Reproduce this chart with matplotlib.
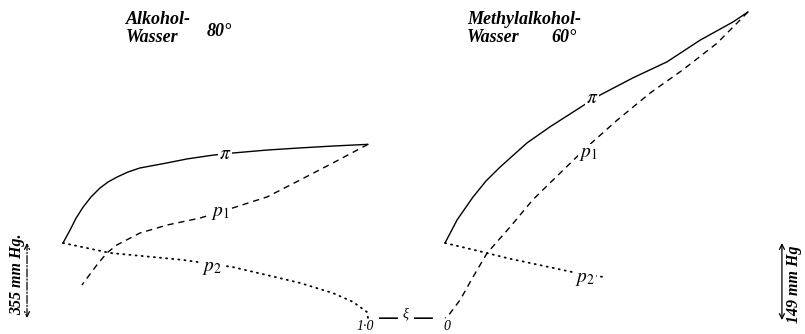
import matplotlib.pyplot as plt

plt.rcParams['mathtext.fontset'] = 'stix'

# Alkohol-Wasser 80 deg: vapour pressure in mm Hg against mole fraction xi
alk_xi_pi = [0.0, 0.023, 0.043, 0.066, 0.092, 0.121, 0.148, 0.177, 0.213, 0.252, 0.341, 0.407,
             0.492, 0.557, 0.669, 0.777, 0.885, 1.0]
alk_pi = [355, 416, 473, 525, 573, 615, 644, 667, 691, 710, 734, 753,
          771, 781, 795, 805, 814, 822]
alk_xi_p1 = [1.0, 0.885, 0.777, 0.669, 0.557, 0.449, 0.341, 0.252, 0.177, 0.144, 0.111, 0.062]
alk_p1 = [822, 734, 653, 573, 521, 473, 440, 402, 346, 308, 251, 156]
alk_xi_p2 = [0.0, 0.154, 0.393, 0.557, 0.669, 0.777, 0.885, 0.951, 0.997, 1.0]
alk_p2 = [355, 308, 275, 241, 203, 166, 118, 76, 28, 0]

# Methylalkohol-Wasser 60 deg
meth_xi_pi = [0.0, 0.040, 0.092, 0.135, 0.182, 0.271, 0.347, 0.469, 0.512, 0.620, 0.733, 0.842, 0.950, 1.0]
meth_pi = [149, 195, 240, 272, 300, 348, 380, 427, 443, 477, 509, 552, 588, 608]
meth_xi_p1 = [1.0, 0.898, 0.785, 0.677, 0.568, 0.469, 0.380, 0.290, 0.215, 0.139, 0.092, 0.050, 0.010, 0.0]
meth_p1 = [608, 546, 493, 447, 393, 340, 288, 235, 181, 129, 81, 36, 4, 0]
meth_xi_p2 = [0.0, 0.139, 0.205, 0.314, 0.422, 0.528]
meth_p2 = [149, 129, 119, 105, 91, 81]

W, H = 805, 334
fig = plt.figure(figsize=(W / 100, H / 100), dpi=100)


def panel(x0, x1, y0, mm_per_px):
    # axes over the whole figure, scaled so xi 0..1 lands on pixels x0..x1
    ax = fig.add_axes([0, 0, 1, 1])
    ax.set_xlim(-x0 / (x1 - x0), (W - x0) / (x1 - x0))
    ax.set_ylim(-(H - y0) * mm_per_px, y0 * mm_per_px)
    ax.axis('off')
    ax.patch.set_visible(False)
    return ax


ax_l = panel(63, 368, 318, 355 / 75)
ax_r = panel(445, 748, 318, 149 / 75)

solid = dict(color='black', lw=1.0, solid_capstyle='round', solid_joinstyle='round')
dashed = dict(color='black', lw=1.0, linestyle=(0, (4.5, 3.5)))
dotted = dict(color='black', lw=1.3, linestyle=(0, (0.6, 2.8)), dash_capstyle='round')

for ax, xs, ys, style in [
    (ax_l, alk_xi_pi, alk_pi, solid), (ax_l, alk_xi_p1, alk_p1, dashed), (ax_l, alk_xi_p2, alk_p2, dotted),
    (ax_r, meth_xi_pi, meth_pi, solid), (ax_r, meth_xi_p1, meth_p1, dashed), (ax_r, meth_xi_p2, meth_p2, dotted),
]:
    ax.plot(xs, ys, **style)

box = dict(facecolor='white', edgecolor='none', pad=0.5)
lab = dict(fontsize=14, ha='center', va='center', bbox=box)
ax_l.text(0.531, 781, r'$\pi$', **lab)
ax_l.text(0.515, 497, r'$p_1$', **lab)
ax_l.text(0.489, 240, r'$p_2$', **lab)
ax_r.text(0.485, 439, r'$\pi$', **lab)
ax_r.text(0.472, 326, r'$p_1$', **lab)
ax_r.text(0.462, 79, r'$p_2$', **lab)

# scale arrows
arrow = dict(arrowstyle='<->', color='black', lw=0.9, linestyle='-.', shrinkA=0, shrinkB=0,
             mutation_scale=9)
ax_l.annotate('', xy=(-0.118, 355), xytext=(-0.118, 0), arrowprops=arrow)
arrow_r = dict(arrow, linestyle='-')
ax_r.annotate('', xy=(1.112, 149), xytext=(1.112, -4), arrowprops=arrow_r)

title = dict(family='Liberation Serif', style='italic', weight='bold', fontsize=13, va='center')
fig.text(126 / W, 1 - 19 / H, 'Alkohol-', **title)
fig.text(126 / W, 1 - 38 / H, 'Wasser', **title)
fig.text(207 / W, 1 - 31 / H, '80°', **title)
fig.text(467 / W, 1 - 19 / H, 'Methylalkohol-', **title)
fig.text(467 / W, 1 - 38 / H, 'Wasser', **title)
fig.text(551 / W, 1 - 38 / H, '60°', **title)

side = dict(family='Liberation Serif', style='italic', weight='bold', fontsize=11.5,
            rotation=90, ha='center', va='center')
fig.text(17 / W, 1 - 274 / H, '355 mm Hg.', **side)
fig.text(794 / W, 1 - 284 / H, '149 mm Hg', **side)

small = dict(family='Liberation Serif', style='italic', fontsize=10, ha='center', va='center')
fig.text(365 / W, 1 - 326 / H, '1·0', **small)
fig.text(447 / W, 1 - 326 / H, '0', **small)
fig.text(406 / W, 1 - 314 / H, 'ξ', **small)
dash = dict(family='DejaVu Sans', fontsize=15, ha='center', va='center')
fig.text(388 / W, 1 - 318 / H, '—', **dash)
fig.text(423 / W, 1 - 318 / H, '—', **dash)

plt.savefig('out.png', dpi=100)
